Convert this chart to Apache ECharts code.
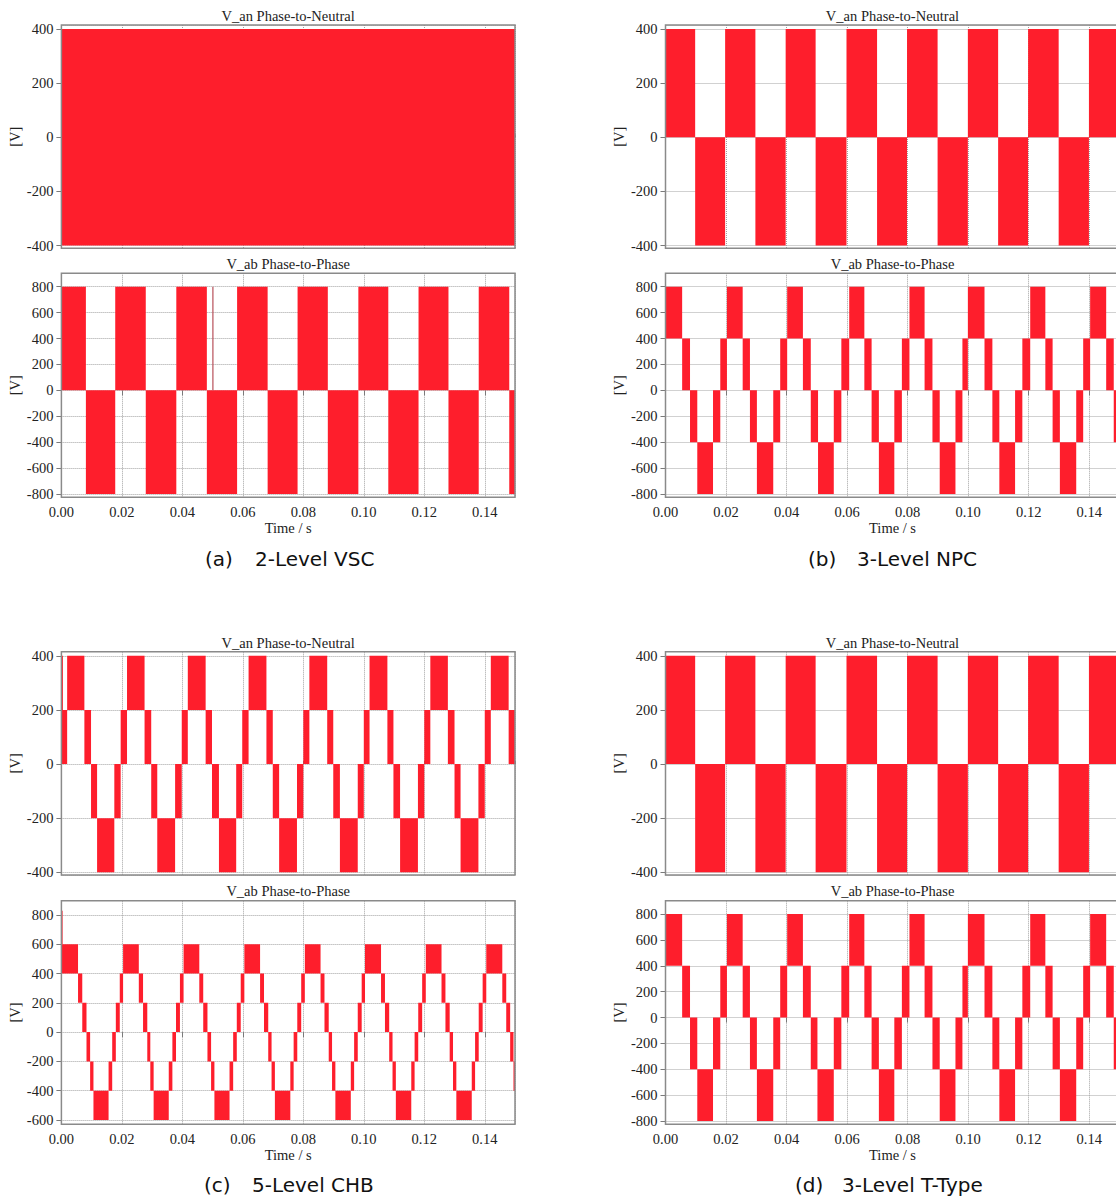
<!DOCTYPE html>
<html>
<head>
<meta charset="utf-8">
<script src="https://cdn.jsdelivr.net/npm/echarts@6/dist/echarts.min.js"></script>
<style>
html, body { margin: 0; padding: 0; background: #ffffff; }
#chart { width: 1116px; height: 1200px; }
</style>
</head>
<body>
<div id="chart"></div>
<script>
// ---------------- DATA ----------------
// Each waveform: switching-band edges (time, s) and lower / upper level of each band (V)

// (a) 2-Level VSC
const vscAnEdges = [0, 0.15];
const vscAnLow   = [-400];
const vscAnHigh  = [400];

const vscAbEdges = [0, 0.0081, 0.0178, 0.0279, 0.0380, 0.0481, 0.0581, 0.0682, 0.0781,
                    0.0881, 0.0982, 0.1081, 0.1181, 0.1280, 0.1380, 0.1481, 0.15];
const vscAbLow   = [0, -800, 0, -800, 0, -800, 0, -800, 0, -800, 0, -800, 0, -800, 0, -800];
const vscAbHigh  = [800, 0, 800, 0, 800, 0, 800, 0, 800, 0, 800, 0, 800, 0, 800, 0];
const vscAbSpikeT = [0.0501, 0.0501];
const vscAbSpikeV = [0, 800];

// (b) 3-Level NPC
const npcAnEdges = [0, 0.0098, 0.0197, 0.0297, 0.0397, 0.0496, 0.0598, 0.0699, 0.0798,
                    0.0899, 0.0999, 0.1099, 0.1198, 0.1299, 0.1399, 0.1498, 0.15];
const npcAnLow   = [0, -400, 0, -400, 0, -400, 0, -400, 0, -400, 0, -400, 0, -400, 0, -400];
const npcAnHigh  = [400, 0, 400, 0, 400, 0, 400, 0, 400, 0, 400, 0, 400, 0, 400, 0];

const npcAbEdges = [0, 0.0055, 0.0081, 0.0105, 0.0157, 0.0181,
                    0.0203, 0.0255, 0.0279, 0.0302, 0.0356, 0.0379,
                    0.0402, 0.0454, 0.0480, 0.0504, 0.0556, 0.0581,
                    0.0607, 0.0657, 0.0681, 0.0705, 0.0756, 0.0781,
                    0.0806, 0.0856, 0.0882, 0.0906, 0.0958, 0.0981,
                    0.0999, 0.1054, 0.1080, 0.1103, 0.1155, 0.1179,
                    0.1205, 0.1255, 0.1279, 0.1303, 0.1357, 0.1380,
                    0.1403, 0.1456, 0.1481, 0.15];
const npcAbLow  = [400, 0, -400, -800, -400, 0,
                   400, 0, -400, -800, -400, 0,
                   400, 0, -400, -800, -400, 0,
                   400, 0, -400, -800, -400, 0,
                   400, 0, -400, -800, -400, 0,
                   400, 0, -400, -800, -400, 0,
                   400, 0, -400, -800, -400, 0,
                   400, 0, -400];
const npcAbHigh = [800, 400, 0, -400, 0, 400,
                   800, 400, 0, -400, 0, 400,
                   800, 400, 0, -400, 0, 400,
                   800, 400, 0, -400, 0, 400,
                   800, 400, 0, -400, 0, 400,
                   800, 400, 0, -400, 0, 400,
                   800, 400, 0, -400, 0, 400,
                   800, 400, 0];

// (c) 5-Level CHB
const chbAnEdges = [0, 0.0019, 0.0076, 0.0098, 0.0118, 0.0175,
                    0.0196, 0.0217, 0.0275, 0.0297, 0.0317, 0.0376,
                    0.0398, 0.0418, 0.0477, 0.0498, 0.0521, 0.0578,
                    0.0598, 0.0619, 0.0678, 0.0699, 0.0720, 0.0779,
                    0.0800, 0.0820, 0.0879, 0.0899, 0.0921, 0.0980,
                    0.1000, 0.1019, 0.1078, 0.1098, 0.1120, 0.1179,
                    0.1200, 0.1220, 0.1278, 0.1300, 0.1320, 0.1379,
                    0.1400, 0.1420, 0.1479, 0.15];
const chbAnLow  = [0, 200, 0, -200, -400, -200,
                   0, 200, 0, -200, -400, -200,
                   0, 200, 0, -200, -400, -200,
                   0, 200, 0, -200, -400, -200,
                   0, 200, 0, -200, -400, -200,
                   0, 200, 0, -200, -400, -200,
                   0, 200, 0, -200, -400, -200,
                   0, 200, 0];
const chbAnHigh = [200, 400, 200, 0, -200, 0,
                   200, 400, 200, 0, -200, 0,
                   200, 400, 200, 0, -200, 0,
                   200, 400, 200, 0, -200, 0,
                   200, 400, 200, 0, -200, 0,
                   200, 400, 200, 0, -200, 0,
                   200, 400, 200, 0, -200, 0,
                   200, 400, 200];
const chbAnSpikeT = [0.0003, 0.0003];
const chbAnSpikeV = [200, 400];

const chbAbEdges = [0, 0.0055, 0.0069, 0.0083, 0.0095, 0.0106, 0.0156, 0.0168, 0.0180, 0.0193,
                    0.0204, 0.0256, 0.0270, 0.0284, 0.0294, 0.0305, 0.0355, 0.0367, 0.0379, 0.0392,
                    0.0404, 0.0456, 0.0469, 0.0483, 0.0495, 0.0506, 0.0556, 0.0568, 0.0580, 0.0593,
                    0.0605, 0.0657, 0.0670, 0.0684, 0.0695, 0.0706, 0.0757, 0.0768, 0.0780, 0.0793,
                    0.0805, 0.0857, 0.0870, 0.0884, 0.0895, 0.0906, 0.0957, 0.0968, 0.0980, 0.0993,
                    0.1004, 0.1057, 0.1070, 0.1084, 0.1095, 0.1106, 0.1157, 0.1168, 0.1180, 0.1193,
                    0.1205, 0.1257, 0.1270, 0.1284, 0.1295, 0.1306, 0.1357, 0.1368, 0.1380, 0.1393,
                    0.1405, 0.1458, 0.1471, 0.1484, 0.1495, 0.15];
const chbAbLow  = [400, 200, 0, -200, -400, -600, -400, -200, 0, 200,
                   400, 200, 0, -200, -400, -600, -400, -200, 0, 200,
                   400, 200, 0, -200, -400, -600, -400, -200, 0, 200,
                   400, 200, 0, -200, -400, -600, -400, -200, 0, 200,
                   400, 200, 0, -200, -400, -600, -400, -200, 0, 200,
                   400, 200, 0, -200, -400, -600, -400, -200, 0, 200,
                   400, 200, 0, -200, -400, -600, -400, -200, 0, 200,
                   400, 200, 0, -200, -400];
const chbAbHigh = [600, 400, 200, 0, -200, -400, -200, 0, 200, 400,
                   600, 400, 200, 0, -200, -400, -200, 0, 200, 400,
                   600, 400, 200, 0, -200, -400, -200, 0, 200, 400,
                   600, 400, 200, 0, -200, -400, -200, 0, 200, 400,
                   600, 400, 200, 0, -200, -400, -200, 0, 200, 400,
                   600, 400, 200, 0, -200, -400, -200, 0, 200, 400,
                   600, 400, 200, 0, -200, -400, -200, 0, 200, 400,
                   600, 400, 200, 0, -200];
const chbAbSpikeT = [0.0002, 0.0002];
const chbAbSpikeV = [600, 830];

// (d) 3-Level T-Type
const ttAnEdges = [0, 0.0098, 0.0197, 0.0297, 0.0397, 0.0496, 0.0598, 0.0699, 0.0798,
                   0.0899, 0.0999, 0.1099, 0.1198, 0.1299, 0.1399, 0.1498, 0.15];
const ttAnLow   = [0, -400, 0, -400, 0, -400, 0, -400, 0, -400, 0, -400, 0, -400, 0, -400];
const ttAnHigh  = [400, 0, 400, 0, 400, 0, 400, 0, 400, 0, 400, 0, 400, 0, 400, 0];

const ttAbEdges = [0, 0.0055, 0.0081, 0.0105, 0.0157, 0.0181,
                   0.0203, 0.0255, 0.0279, 0.0302, 0.0356, 0.0379,
                   0.0402, 0.0454, 0.0480, 0.0502, 0.0556, 0.0581,
                   0.0607, 0.0657, 0.0681, 0.0705, 0.0756, 0.0781,
                   0.0806, 0.0856, 0.0882, 0.0906, 0.0958, 0.0981,
                   0.0999, 0.1054, 0.1080, 0.1103, 0.1155, 0.1179,
                   0.1205, 0.1255, 0.1279, 0.1303, 0.1357, 0.1380,
                   0.1403, 0.1456, 0.1481, 0.15];
const ttAbLow  = [400, 0, -400, -800, -400, 0,
                  400, 0, -400, -800, -400, 0,
                  400, 0, -400, -800, -400, 0,
                  400, 0, -400, -800, -400, 0,
                  400, 0, -400, -800, -400, 0,
                  400, 0, -400, -800, -400, 0,
                  400, 0, -400, -800, -400, 0,
                  400, 0, -400];
const ttAbHigh = [800, 400, 0, -400, 0, 400,
                  800, 400, 0, -400, 0, 400,
                  800, 400, 0, -400, 0, 400,
                  800, 400, 0, -400, 0, 400,
                  800, 400, 0, -400, 0, 400,
                  800, 400, 0, -400, 0, 400,
                  800, 400, 0, -400, 0, 400,
                  800, 400, 0];

// Texts
const anTitle = 'V_an Phase-to-Neutral';
const abTitle = 'V_ab Phase-to-Phase';
const xName = 'Time / s';
const yName = '[V]';
const captionTags  = ['(a)', '(b)', '(c)', '(d)'];
const captionNames = ['2-Level VSC', '3-Level NPC', '5-Level CHB', '3-Level T-Type'];

// ---------------- LAYOUT / STYLE ----------------
const RED = '#fe1e2c';
const SERIF = 'Liberation Serif';
const SANS = 'DejaVu Sans';
const TXT = '#222222';
const GRIDC = '#a2a2a2';
const FRAME = '#8a8a8a';
const TICKC = '#7a7a7a';

const rowsLayout = [
  { top1: 25, h1: 223.3, top2: 273.3, h2: 224, t1: 16, t2: 263.5, capY: 558.5 },
  { top1: 651.7, h1: 223.3, top2: 900.7, h2: 223.6, t1: 642.5, t2: 890.7, capY: 1185 }
];
const colsLayout = [
  { left: 61.4, width: 453.6 },
  { left: 665.5, width: 454 }
];

const panels = [
  { row: 0, col: 0, an: [vscAnEdges, vscAnLow, vscAnHigh], ab: [vscAbEdges, vscAbLow, vscAbHigh],
    abRange: [-825, 903], spikes: [[vscAbSpikeT, vscAbSpikeV, 1, '#b8505a']], capX: [205, 255] },
  { row: 0, col: 1, an: [npcAnEdges, npcAnLow, npcAnHigh], ab: [npcAbEdges, npcAbLow, npcAbHigh],
    abRange: [-825, 903], spikes: [], capX: [808, 857] },
  { row: 1, col: 0, an: [chbAnEdges, chbAnLow, chbAnHigh], ab: [chbAbEdges, chbAbLow, chbAbHigh],
    abRange: [-630, 898], spikes: [[chbAnSpikeT, chbAnSpikeV, 0, RED], [chbAbSpikeT, chbAbSpikeV, 1, RED]], capX: [204, 252] },
  { row: 1, col: 1, an: [ttAnEdges, ttAnLow, ttAnHigh], ab: [ttAbEdges, ttAbLow, ttAbHigh],
    abRange: [-825, 903], spikes: [], capX: [795, 842] }
];

function renderBand(params, api) {
  const t0 = api.value(0), t1 = api.value(1), lo = api.value(2), hi = api.value(3);
  const pTL = api.coord([t0, hi]);
  const pBR = api.coord([t1, lo]);
  return {
    type: 'rect',
    shape: { x: pTL[0], y: pTL[1], width: pBR[0] - pTL[0], height: pBR[1] - pTL[1] },
    style: { fill: RED, stroke: null }
  };
}

const grid = [], xAxis = [], yAxis = [], series = [], graphic = [];
const labelStyle = { fontFamily: SERIF, fontSize: 14.5, color: TXT };

panels.forEach((p, pi) => {
  const R = rowsLayout[p.row], C = colsLayout[p.col];
  [0, 1].forEach(sub => {
    const gi = grid.length;
    const isBottom = sub === 1;
    grid.push({
      left: C.left, width: C.width,
      top: isBottom ? R.top2 : R.top1,
      height: isBottom ? R.h2 : R.h1,
      show: true, borderColor: FRAME, borderWidth: 1.5, backgroundColor: 'transparent',
      containLabel: false, outerBoundsMode: 'none', z: 5
    });
    xAxis.push({
      gridIndex: gi, type: 'value', min: 0, max: 0.15, interval: 0.02,
      axisLine: { show: false },
      axisTick: { show: true, inside: !isBottom, length: isBottom ? 5 : 3, lineStyle: { color: TICKC } },
      axisLabel: Object.assign({ show: isBottom, margin: 7, showMaxLabel: false,
        formatter: v => Number(v).toFixed(2) }, labelStyle),
      splitLine: { show: true, lineStyle: { color: GRIDC, type: 'dotted', width: 1 } },
      name: isBottom ? xName : '', nameLocation: 'middle', nameGap: 22,
      nameTextStyle: labelStyle
    });
    const range = isBottom ? p.abRange : [-410, 415];
    yAxis.push({
      gridIndex: gi, type: 'value', min: range[0], max: range[1], splitNumber: isBottom ? 8 : 4,
      axisLine: { show: false },
      axisTick: { show: true, length: 5, lineStyle: { color: TICKC } },
      axisLabel: Object.assign({ margin: 8, showMinLabel: false, showMaxLabel: false }, labelStyle),
      splitLine: { show: true, lineStyle: { color: GRIDC, type: 'dotted', width: 1 } },
      name: yName, nameLocation: 'middle', nameRotate: 90, nameGap: 39,
      nameTextStyle: labelStyle
    });
    const [edges, low, high] = isBottom ? p.ab : p.an;
    series.push({
      type: 'custom', xAxisIndex: gi, yAxisIndex: gi,
      renderItem: renderBand, clip: true, silent: true, z: 2,
      encode: { x: [0, 1], y: [2, 3] },
      data: low.map((v, i) => [edges[i], edges[i + 1], v, high[i]])
    });
    p.spikes.filter(s => s[2] === sub).forEach(s => {
      series.push({
        type: 'line', xAxisIndex: gi, yAxisIndex: gi, symbol: 'none', silent: true, z: 3,
        lineStyle: { color: s[3], width: 1.2 },
        data: s[0].map((t, i) => [t, s[1][i]])
      });
    });
    graphic.push({
      type: 'text', x: C.left + C.width / 2, y: isBottom ? R.t2 : R.t1, silent: true,
      style: { text: isBottom ? abTitle : anTitle, fontFamily: SERIF, fontSize: 14.5, fill: TXT,
               align: 'center', verticalAlign: 'middle', textAlign: 'center', textVerticalAlign: 'middle' }
    });
  });
  graphic.push({
    type: 'text', x: p.capX[0], y: R.capY, silent: true,
    style: { text: captionTags[pi], fontFamily: SANS, fontSize: 20, fill: '#111',
             align: 'left', verticalAlign: 'middle', textAlign: 'left', textVerticalAlign: 'middle' }
  });
  graphic.push({
    type: 'text', x: p.capX[1], y: R.capY, silent: true,
    style: { text: captionNames[pi], fontFamily: SANS, fontSize: 20, fill: '#111',
             align: 'left', verticalAlign: 'middle', textAlign: 'left', textVerticalAlign: 'middle' }
  });
});

const chart = echarts.init(document.getElementById('chart'), null, { renderer: 'svg', width: 1116, height: 1200 });
chart.setOption({
  animation: false,
  backgroundColor: '#ffffff',
  grid, xAxis, yAxis, series, graphic
});
</script>
</body>
</html>
